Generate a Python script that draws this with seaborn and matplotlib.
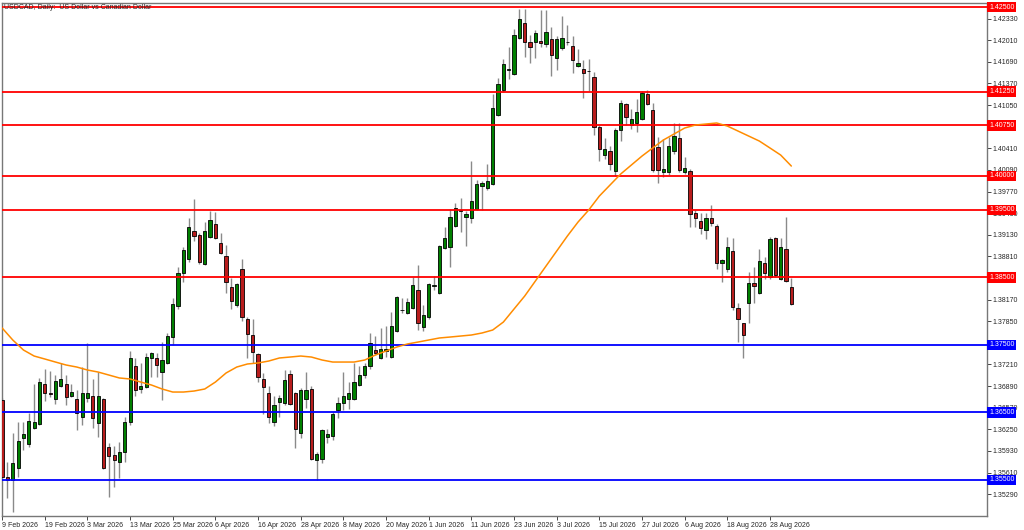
import matplotlib
matplotlib.use("Agg")
import matplotlib.pyplot as plt
import matplotlib.transforms as mtransforms
import numpy as np
import pandas as pd
import seaborn as sns

# daily candles (open, high, low, close)
opens = [1.3668, 1.3554, 1.3550, 1.3568, 1.3612, 1.3603, 1.3627, 1.3633, 1.3692, 1.3679,
         1.3670, 1.3689, 1.3692, 1.3674, 1.3670, 1.3643, 1.3671, 1.3674, 1.3634, 1.3670,
         1.3599, 1.3587, 1.3577, 1.3591, 1.3636, 1.3719, 1.3685, 1.3688, 1.3731, 1.3731,
         1.3710, 1.3723, 1.3762, 1.3808, 1.3856, 1.3877, 1.3919, 1.3913, 1.3870, 1.3910,
         1.3929, 1.3901, 1.3882, 1.3836, 1.3809, 1.3862, 1.3788, 1.3765, 1.3736, 1.3699,
         1.3679, 1.3636, 1.3665, 1.3664, 1.3707, 1.3679, 1.3620, 1.3670, 1.3685, 1.3580,
         1.3581, 1.3614, 1.3615, 1.3654, 1.3664, 1.3670, 1.3670, 1.3691, 1.3705, 1.3719,
         1.3742, 1.3731, 1.3741, 1.3732, 1.3771, 1.3802, 1.3797, 1.3805, 1.3831, 1.3776,
         1.3791, 1.3837, 1.3827, 1.3893, 1.3895, 1.3926, 1.3950, 1.3939, 1.3938, 1.3951,
         1.3985, 1.3982, 1.3988, 1.4090, 1.4127, 1.4157, 1.4151, 1.4204, 1.4226, 1.4198,
         1.4198, 1.4200, 1.4195, 1.4203, 1.4175, 1.4189, 1.4198, 1.4192, 1.4163, 1.4158,
         1.4156, 1.4146, 1.4072, 1.4031, 1.4037, 1.4007, 1.4068, 1.4106, 1.4075, 1.4078,
         1.4084, 1.4121, 1.4098, 1.4043, 1.4006, 1.4006, 1.4037, 1.4056, 1.4006, 1.4007,
         1.3945, 1.3933, 1.3920, 1.3938, 1.3926, 1.3871, 1.3862, 1.3889, 1.3805, 1.3782,
         1.3812, 1.3842, 1.3827, 1.3871, 1.3850, 1.3908, 1.3847, 1.3892, 1.3836]
highs = [1.3671, 1.3577, 1.3620, 1.3636, 1.3636, 1.3649, 1.3692, 1.3701, 1.3714, 1.3711,
         1.3705, 1.3723, 1.3705, 1.3692, 1.3683, 1.3717, 1.3753, 1.3699, 1.3710, 1.3671,
         1.3605, 1.3600, 1.3606, 1.3643, 1.3741, 1.3731, 1.3723, 1.3738, 1.3739, 1.3738,
         1.3754, 1.3768, 1.3819, 1.3865, 1.3895, 1.3938, 1.3966, 1.3916, 1.3932, 1.3948,
         1.3947, 1.3916, 1.3898, 1.3849, 1.3842, 1.3877, 1.3791, 1.3788, 1.3738, 1.3708,
         1.3689, 1.3674, 1.3676, 1.3713, 1.3713, 1.3680, 1.3686, 1.3710, 1.3689, 1.3591,
         1.3625, 1.3625, 1.3651, 1.3673, 1.3710, 1.3695, 1.3723, 1.3719, 1.3723, 1.3768,
         1.3763, 1.3775, 1.3778, 1.3799, 1.3822, 1.3819, 1.3819, 1.3850, 1.3868, 1.3809,
         1.3842, 1.3852, 1.3898, 1.3924, 1.3951, 1.3960, 1.3967, 1.3948, 1.4022, 1.3994,
         1.3992, 1.4018, 1.4121, 1.4145, 1.4173, 1.4191, 1.4217, 1.4247, 1.4247, 1.4209,
         1.4216, 1.4246, 1.4246, 1.4220, 1.4207, 1.4237, 1.4223, 1.4207, 1.4188, 1.4172,
         1.4173, 1.4154, 1.4075, 1.4056, 1.4044, 1.4071, 1.4112, 1.4108, 1.4099, 1.4114,
         1.4126, 1.4127, 1.4108, 1.4058, 1.4055, 1.4058, 1.4078, 1.4078, 1.4028, 1.4010,
         1.3950, 1.3945, 1.3945, 1.3957, 1.3929, 1.3877, 1.3910, 1.3908, 1.3812, 1.3782,
         1.3858, 1.3865, 1.3892, 1.3880, 1.3910, 1.3910, 1.3908, 1.3939, 1.3849]
lows = [1.3553, 1.3523, 1.3503, 1.3554, 1.3594, 1.3599, 1.3625, 1.3631, 1.3667, 1.3673,
        1.3662, 1.3688, 1.3661, 1.3673, 1.3624, 1.3631, 1.3665, 1.3627, 1.3614, 1.3566,
        1.3525, 1.3540, 1.3553, 1.3577, 1.3631, 1.3674, 1.3679, 1.3686, 1.3702, 1.3702,
        1.3668, 1.3722, 1.3750, 1.3803, 1.3843, 1.3873, 1.3904, 1.3870, 1.3868, 1.3908,
        1.3907, 1.3884, 1.3827, 1.3803, 1.3806, 1.3785, 1.3731, 1.3723, 1.3695, 1.3648,
        1.3634, 1.3630, 1.3643, 1.3661, 1.3661, 1.3597, 1.3612, 1.3657, 1.3580, 1.3550,
        1.3575, 1.3605, 1.3609, 1.3642, 1.3654, 1.3655, 1.3668, 1.3689, 1.3701, 1.3714,
        1.3735, 1.3729, 1.3732, 1.3731, 1.3769, 1.3797, 1.3796, 1.3803, 1.3772, 1.3771,
        1.3788, 1.3831, 1.3826, 1.3892, 1.3865, 1.3924, 1.3917, 1.3896, 1.3930, 1.3950,
        1.3950, 1.3979, 1.3987, 1.4089, 1.4125, 1.4143, 1.4149, 1.4203, 1.4176, 1.4167,
        1.4175, 1.4191, 1.4191, 1.4148, 1.4157, 1.4186, 1.4194, 1.4152, 1.4161, 1.4115,
        1.4126, 1.4061, 1.4022, 1.4025, 1.4009, 1.4000, 1.4052, 1.4075, 1.4069, 1.4065,
        1.4083, 1.4105, 1.4006, 1.3990, 1.3998, 1.4001, 1.4032, 1.4006, 1.4003, 1.3924,
        1.3924, 1.3914, 1.3907, 1.3926, 1.3862, 1.3843, 1.3858, 1.3802, 1.3754, 1.3731,
        1.3782, 1.3812, 1.3826, 1.3847, 1.3847, 1.3850, 1.3846, 1.3843, 1.3809]
closes = [1.3554, 1.3550, 1.3575, 1.3608, 1.3618, 1.3637, 1.3636, 1.3695, 1.3679, 1.3677,
          1.3697, 1.3699, 1.3673, 1.3680, 1.3649, 1.3679, 1.3679, 1.3642, 1.3674, 1.3568,
          1.3586, 1.3580, 1.3591, 1.3636, 1.3731, 1.3683, 1.3689, 1.3732, 1.3738, 1.3720,
          1.3728, 1.3763, 1.3810, 1.3856, 1.3890, 1.3924, 1.3911, 1.3873, 1.3919, 1.3935,
          1.3908, 1.3886, 1.3843, 1.3815, 1.3840, 1.3791, 1.3766, 1.3739, 1.3702, 1.3688,
          1.3643, 1.3661, 1.3671, 1.3698, 1.3662, 1.3625, 1.3683, 1.3683, 1.3581, 1.3588,
          1.3624, 1.3618, 1.3648, 1.3664, 1.3674, 1.3679, 1.3695, 1.3705, 1.3719, 1.3753,
          1.3738, 1.3744, 1.3744, 1.3778, 1.3821, 1.3801, 1.3813, 1.3839, 1.3782, 1.3794,
          1.3840, 1.3839, 1.3896, 1.3908, 1.3939, 1.3953, 1.3948, 1.3944, 1.3963, 1.3988,
          1.3989, 1.3992, 1.4101, 1.4136, 1.4166, 1.4158, 1.4209, 1.4232, 1.4198, 1.4191,
          1.4212, 1.4197, 1.4213, 1.4179, 1.4203, 1.4204, 1.4199, 1.4172, 1.4167, 1.4152,
          1.4155, 1.4072, 1.4040, 1.4040, 1.4018, 1.4068, 1.4108, 1.4087, 1.4084, 1.4095,
          1.4123, 1.4106, 1.4009, 1.4009, 1.4010, 1.4044, 1.4059, 1.4009, 1.4012, 1.3944,
          1.3938, 1.3923, 1.3938, 1.3930, 1.3871, 1.3876, 1.3895, 1.3806, 1.3788, 1.3765,
          1.3842, 1.3837, 1.3874, 1.3856, 1.3907, 1.3853, 1.3895, 1.3845, 1.3810]

# moving average line, read every second bar
ma_bar = list(range(0, 149, 2))
ma_val = [1.37750, 1.37572, 1.37424, 1.37335, 1.37291, 1.37246, 1.37202, 1.37172,
          1.37128, 1.37098, 1.37054, 1.37010, 1.36995, 1.36950, 1.36906, 1.36847,
          1.36802, 1.36802, 1.36817, 1.36847, 1.36950, 1.37084, 1.37172, 1.37217,
          1.37232, 1.37261, 1.37306, 1.37320, 1.37335, 1.37320, 1.37276, 1.37246,
          1.37246, 1.37246, 1.37276, 1.37350, 1.37409, 1.37468, 1.37513, 1.37542,
          1.37572, 1.37602, 1.37616, 1.37631, 1.37646, 1.37676, 1.37720, 1.37838,
          1.38031, 1.38223, 1.38445, 1.38667, 1.38889, 1.39111, 1.39318, 1.39496,
          1.39703, 1.39866, 1.40029, 1.40162, 1.40295, 1.40414, 1.40532, 1.40621,
          1.40710, 1.40754, 1.40769, 1.40784, 1.40739, 1.40665, 1.40591, 1.40517,
          1.40414, 1.40310, 1.40147]

date_labels = ["9 Feb 2026", "19 Feb 2026", "3 Mar 2026", "13 Mar 2026", "25 Mar 2026",
               "6 Apr 2026", "16 Apr 2026", "28 Apr 2026", "8 May 2026", "20 May 2026",
               "1 Jun 2026", "11 Jun 2026", "23 Jun 2026", "3 Jul 2026", "15 Jul 2026",
               "27 Jul 2026", "6 Aug 2026", "18 Aug 2026", "28 Aug 2026"]
date_bars = [0, 8, 16, 24, 32, 40, 48, 56, 64, 72, 80, 88, 96, 104, 112, 120, 128, 136, 144]

resistance = [1.4250, 1.4125, 1.4075, 1.4000, 1.3950, 1.3850]
support = [1.3750, 1.3650, 1.3550]
price_ticks = [1.42330, 1.42010, 1.41690, 1.41370, 1.41050, 1.40730, 1.40410, 1.40090,
               1.39770, 1.39450, 1.39130, 1.38810, 1.38490, 1.38170, 1.37850, 1.37530,
               1.37210, 1.36890, 1.36570, 1.36250, 1.35930, 1.35610, 1.35290]
# these labels sit fully under a level box in the original
hidden_ticks = [1.40730, 1.38490, 1.37530]

sns.set_style("white")
plt.rcParams['font.family'] = ['Liberation Sans', 'DejaVu Sans']

df = pd.DataFrame({"o": opens, "h": highs, "l": lows, "c": closes})
df["bar"] = np.arange(len(df))
df["up"] = df["c"] >= df["o"]
df["body"] = (df["c"] - df["o"]).abs().clip(lower=0.00004)
df["base"] = df[["o", "c"]].min(axis=1)

fig = plt.figure(figsize=(10.24, 5.30), dpi=100)
ax = fig.add_axes([0.0015, 0.0264, 0.9624, 0.9679])

# wicks
ax.vlines(df["bar"], df["l"], df["h"], color="#8a8a8a", lw=1, zorder=2)
# bodies
up = df[df["up"]]
dn = df[~df["up"]]
ax.bar(up["bar"], up["body"], bottom=up["base"], width=0.6, color="#008000",
       edgecolor="black", lw=0.6, zorder=3)
ax.bar(dn["bar"], dn["body"], bottom=dn["base"], width=0.6, color="#b81d1d",
       edgecolor="black", lw=0.6, zorder=3)

# moving average
sns.lineplot(x=ma_bar, y=ma_val, color="#ff8c00", lw=1.1, ax=ax, zorder=4)

# levels with price boxes on the right
trans = mtransforms.blended_transform_factory(ax.transAxes, ax.transData)
for lvl in resistance:
    ax.axhline(lvl, color="#ff0000", lw=1.3, zorder=3.5)
    ax.text(1.002, lvl, f"{lvl:.5f}", transform=trans, ha="left", va="center",
            color="white", fontsize=5, zorder=10, clip_on=False,
            bbox=dict(boxstyle="square,pad=0.25", fc="#ff0000", ec="none"))
for lvl in support:
    ax.axhline(lvl, color="#0000ff", lw=1.3, zorder=3.5)
    ax.text(1.002, lvl, f"{lvl:.5f}", transform=trans, ha="left", va="center",
            color="white", fontsize=5, zorder=10, clip_on=False,
            bbox=dict(boxstyle="square,pad=0.25", fc="#0000ff", ec="none"))

ax.text(0.003, 0.998, "USDCAD, Daily:  US Dollar vs Canadian Dollar", transform=ax.transAxes,
        ha="left", va="top", fontsize=5, zorder=10)

ax.set_xlim(-0.11, 184.7)
ax.set_ylim(1.34967, 1.4256)

ax.yaxis.tick_right()
ax.set_yticks(price_ticks)
ax.set_yticklabels(["" if v in hidden_ticks else f"{v:.5f}" for v in price_ticks])
ax.set_xticks(date_bars)
ax.set_xticklabels(date_labels, ha="left")
ax.tick_params(axis="y", direction="out", length=3, width=0.6, labelsize=5, pad=1,
               right=True, left=False)
ax.tick_params(axis="x", direction="out", length=3, width=0.6, labelsize=5, pad=1,
               bottom=True)
ax.set_xlabel("")
ax.set_ylabel("")
for s in ax.spines.values():
    s.set_color("#777777")
    s.set_linewidth(1)

fig.savefig("out.png", dpi=100)
